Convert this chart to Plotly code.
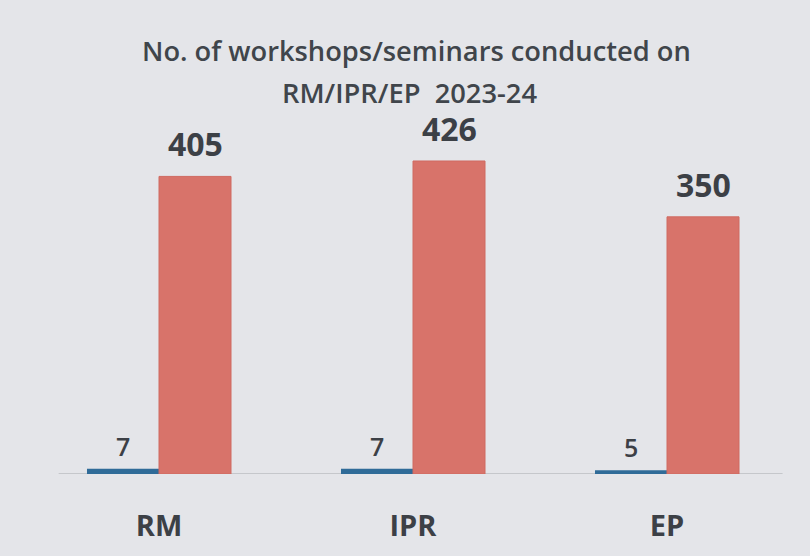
import plotly.graph_objects as go

categories = ["RM", "IPR", "EP"]
series_a = [7, 7, 5]
series_b = [405, 426, 350]
title_lines = ["No. of workshops/seminars conducted on", "RM/IPR/EP  2023-24"]

BG = "#e4e5e9"
TXT = "#3c4046"

fig = go.Figure()
fig.add_trace(go.Bar(x=categories, y=series_a, marker_color="#2f6b98",
                     marker_line_width=0, cliponaxis=False))
fig.add_trace(go.Bar(x=categories, y=series_b, marker_color="#d8736a",
                     marker_line=dict(color="#cf6a61", width=1), cliponaxis=False))

# value labels (placed from the data values)
for c, v in zip(categories, series_a):
    fig.add_annotation(x=c, y=v, xref="x", yref="y", text=str(v), showarrow=False,
                       xshift=-36, yshift=4, yanchor="bottom",
                       font=dict(size=25, color=TXT, family="Open Sans", weight=600))
for c, v in zip(categories, series_b):
    fig.add_annotation(x=c, y=v, xref="x", yref="y", text=str(v), showarrow=False,
                       xshift=36, yshift=9, yanchor="bottom",
                       font=dict(size=32, color=TXT, family="Open Sans", weight="bold"))

fig.update_layout(
    width=810, height=556,
    paper_bgcolor=BG, plot_bgcolor=BG,
    margin=dict(l=32, r=16, t=100, b=80),
    barmode="group", bargap=0.433, bargroupgap=0,
    showlegend=False,
    font=dict(family="Open Sans", color=TXT),
)
fig.update_xaxes(showline=False, ticks="", range=[-0.5, 2.5], showgrid=False,
                 tickfont=dict(size=29, color=TXT, family="Open Sans", weight="bold"),
                 ticklabelstandoff=32)
fig.update_yaxes(range=[0, 509], visible=False, showgrid=False, zeroline=False)

fig.add_shape(type="line", xref="paper", yref="y", x0=0.035, x1=0.985, y0=0, y1=0,
              line=dict(color="#a7a8ac", width=1), layer="below")

fig.add_annotation(text=title_lines[0], xref="paper", yref="paper",
                   x=(416 - 32) / 762, y=(476 - 50) / 376,
                   xanchor="center", yanchor="middle", showarrow=False,
                   font=dict(size=27.3, color="#40454b", family="Open Sans", weight=600))
fig.add_annotation(text=title_lines[1], xref="paper", yref="paper",
                   x=(409 - 32) / 762, y=(476 - 92) / 376,
                   xanchor="center", yanchor="middle", showarrow=False,
                   font=dict(size=27.3, color="#40454b", family="Open Sans", weight=600))

fig.write_html("out.html", post_script="document.body.style.margin='0';",
               config={"displayModeBar": False})
